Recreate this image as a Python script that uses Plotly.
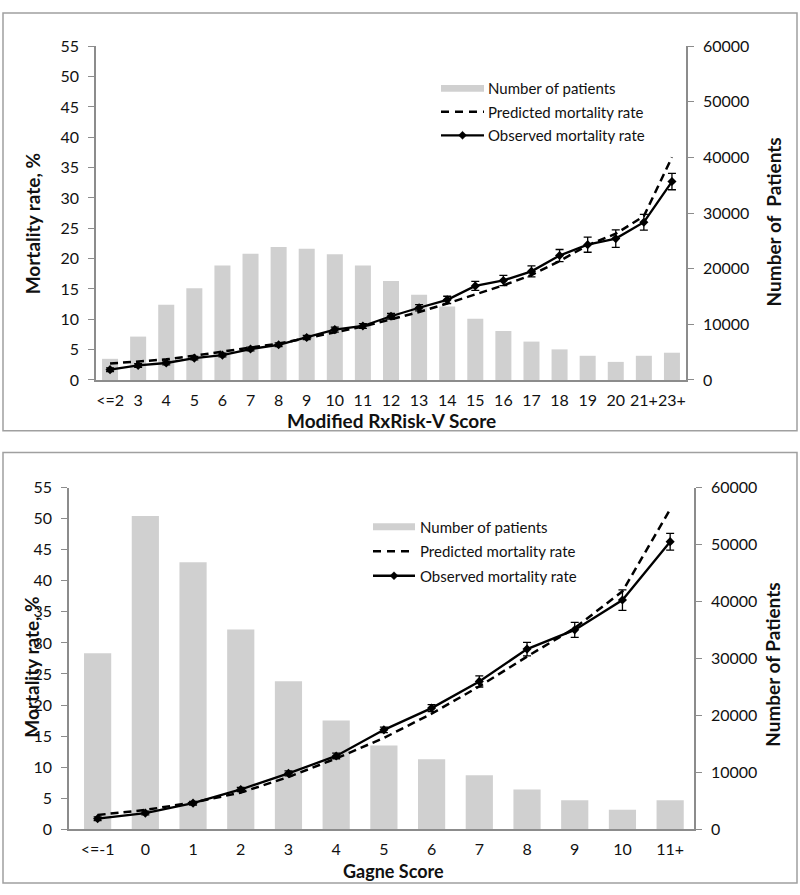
import plotly.graph_objects as go

# ---------------- Data ----------------
top_categories = ["<=2", "3", "4", "5", "6", "7", "8", "9", "10", "11", "12", "13",
                  "14", "15", "16", "17", "18", "19", "20", "21+", "23+"]
top_patients = [3800, 7800, 13500, 16500, 20600, 22700, 23900, 23600, 22600, 20600,
                17800, 15300, 13200, 11000, 8800, 6900, 5500, 4350, 3250, 4350, 4900]
top_observed = [1.7, 2.4, 2.8, 3.6, 4.1, 5.1, 5.8, 7.0, 8.3, 8.9, 10.5, 11.9,
                13.2, 15.5, 16.4, 17.9, 20.5, 22.3, 23.3, 26.0, 32.7]
top_observed_err = [0.3, 0.3, 0.3, 0.3, 0.3, 0.3, 0.3, 0.35, 0.4, 0.4, 0.45, 0.5,
                    0.6, 0.75, 0.85, 0.9, 1.0, 1.25, 1.45, 1.3, 1.35]
top_predicted = [2.7, 3.1, 3.4, 4.0, 4.7, 5.3, 6.0, 6.9, 7.9, 8.8, 10.0, 11.2,
                 12.6, 14.1, 15.6, 17.3, 19.6, 22.2, 24.1, 27.0, 36.7]

bottom_categories = ["<=-1", "0", "1", "2", "3", "4", "5", "6", "7", "8", "9", "10", "11+"]
bottom_patients = [30900, 55000, 46900, 35100, 26000, 19100, 14700, 12300, 9500,
                   7000, 5100, 3400, 5100]
bottom_observed = [1.7, 2.6, 4.2, 6.4, 9.0, 11.8, 16.0, 19.5, 23.8, 29.0, 32.1, 36.9, 46.3]
bottom_observed_err = [0.3, 0.3, 0.3, 0.35, 0.4, 0.45, 0.45, 0.55, 0.9, 1.1, 1.2, 1.65, 1.35]
bottom_predicted = [2.3, 3.1, 4.3, 5.9, 8.4, 11.4, 14.7, 18.6, 23.0, 27.8, 32.4, 38.3, 51.5]

legend_labels = ["Number of patients", "Predicted mortality rate", "Observed mortality rate"]

# ---------------- Style ----------------
W, H = 800, 895
FONT = "Lato"
BAR_COLOR = "#d0d0d0"
AXIS_COLOR = "#8c8c8c"
TXT = "#111111"


def px(x):
    return x / W


def py(y):
    return 1 - y / H


fig = go.Figure()


def add_panel(cats, patients, observed, err, predicted, xa, ybar, yline):
    fig.add_trace(go.Bar(x=cats, y=patients, xaxis=xa, yaxis=ybar, width=0.57,
                         marker=dict(color=BAR_COLOR, line=dict(width=0)),
                         name=legend_labels[0], showlegend=False, hoverinfo="y"))
    fig.add_trace(go.Scatter(x=cats, y=predicted, xaxis=xa, yaxis=yline, mode="lines",
                             line=dict(color="black", width=2.5, dash="8px,5px"),
                             name=legend_labels[1], showlegend=False))
    fig.add_trace(go.Scatter(x=cats, y=observed, xaxis=xa, yaxis=yline, mode="lines+markers",
                             line=dict(color="black", width=2.3),
                             marker=dict(symbol="diamond", size=7, color="black"),
                             error_y=dict(type="data", array=err, visible=True,
                                          color="black", thickness=1.3, width=4),
                             name=legend_labels[2], showlegend=False))


add_panel(top_categories, top_patients, top_observed, top_observed_err, top_predicted,
          "x", "y", "y2")
add_panel(bottom_categories, bottom_patients, bottom_observed, bottom_observed_err,
          bottom_predicted, "x2", "y3", "y4")

tickfont = dict(family=FONT, size=16, color=TXT)

common_y = dict(showgrid=False, zeroline=False, showline=True, linecolor=AXIS_COLOR,
                linewidth=1.5, ticks="outside", ticklen=6, tickcolor=AXIS_COLOR,
                tickwidth=1.2, tickfont=tickfont, ticklabelstandoff=6)
common_x = dict(type="category", showgrid=False, zeroline=False, showline=True,
                linecolor=AXIS_COLOR, linewidth=1.5, ticks="", tickfont=tickfont,
                ticklabelstandoff=5, tickangle=0)

top_dom = [py(378), py(37)]
bot_dom = [py(837), py(488)]

fig.update_layout(
    width=W, height=H, margin=dict(l=0, r=0, t=0, b=0),
    paper_bgcolor="white", plot_bgcolor="white", showlegend=False,
    font=dict(family=FONT, color=TXT),
    xaxis=dict(domain=[px(96), px(686)], anchor="y", range=[-0.5, 20.5], **common_x),
    yaxis=dict(domain=top_dom, anchor="x", side="right", range=[0, 60000], dtick=10000,
               tickformat="d", **common_y),
    yaxis2=dict(overlaying="y", anchor="x", side="left", range=[0, 55], dtick=5,
                **common_y),
    xaxis2=dict(domain=[px(69), px(694)], anchor="y3", range=[-0.6, 12.5], **common_x),
    yaxis3=dict(domain=bot_dom, anchor="x2", side="right", range=[0, 60000], dtick=10000,
                tickformat="d", **common_y),
    yaxis4=dict(overlaying="y3", anchor="x2", side="left", range=[0, 55], dtick=5,
                **common_y),
)

shapes = []
annotations = []

# panel borders
for (y0, y1) in [(3, 430), (452, 892)]:
    shapes.append(dict(type="rect", xref="paper", yref="paper", x0=px(3), x1=px(797),
                       y0=py(y1), y1=py(y0), line=dict(color="#a0a0a0", width=1.5),
                       fillcolor="rgba(0,0,0,0)", layer="below"))


def title(text, x, y, angle=0, size=19):
    annotations.append(dict(text=f"<b>{text}</b>", x=px(x), y=py(y), xref="paper",
                            yref="paper", showarrow=False, textangle=angle,
                            font=dict(family=FONT, size=size, color=TXT),
                            xanchor="center", yanchor="middle"))


title("Mortality rate, %", 32, 219, -90)
title("Number of\u00a0 Patients", 773, 217, -90)
title("Modified RxRisk-V Score", 391, 419)
title("Mortality rate, %", 32, 672, -90)
title("Number of Patients", 773, 669, -90)
title("Gagne Score", 393, 880, size=18)


def legend(x0, x1, ys, xtext):
    # bar swatch
    shapes.append(dict(type="rect", xref="paper", yref="paper", x0=px(x0), x1=px(x1),
                       y0=py(ys[0] + 3.5), y1=py(ys[0] - 3.5), fillcolor=BAR_COLOR,
                       line=dict(width=0)))
    # dashed
    shapes.append(dict(type="line", xref="paper", yref="paper", x0=px(x0), x1=px(x1),
                       y0=py(ys[1]), y1=py(ys[1]),
                       line=dict(color="black", width=2.5, dash="8px,6px")))
    # solid with diamond
    shapes.append(dict(type="line", xref="paper", yref="paper", x0=px(x0), x1=px(x1),
                       y0=py(ys[2]), y1=py(ys[2]), line=dict(color="black", width=2.3)))
    cx = (x0 + x1) / 2
    cy = ys[2]
    d = 4
    path = (f"M{px(cx)},{py(cy - d)} L{px(cx + d)},{py(cy)} "
            f"L{px(cx)},{py(cy + d)} L{px(cx - d)},{py(cy)} Z")
    shapes.append(dict(type="path", xref="paper", yref="paper", path=path,
                       fillcolor="black", line=dict(color="black", width=0.5)))
    for lbl, yy in zip(legend_labels, ys):
        annotations.append(dict(text=lbl, x=px(xtext), y=py(yy), xref="paper",
                                yref="paper", showarrow=False, xanchor="left",
                                yanchor="middle", font=dict(family=FONT, size=15, color=TXT)))


legend(441, 484, [80, 104, 128], 486)
legend(373, 415, [528, 553, 578], 418)

fig.update_layout(shapes=shapes, annotations=annotations)

fig.write_html("out.html", config={"displayModeBar": False},
               post_script="document.body.style.margin='0';")
